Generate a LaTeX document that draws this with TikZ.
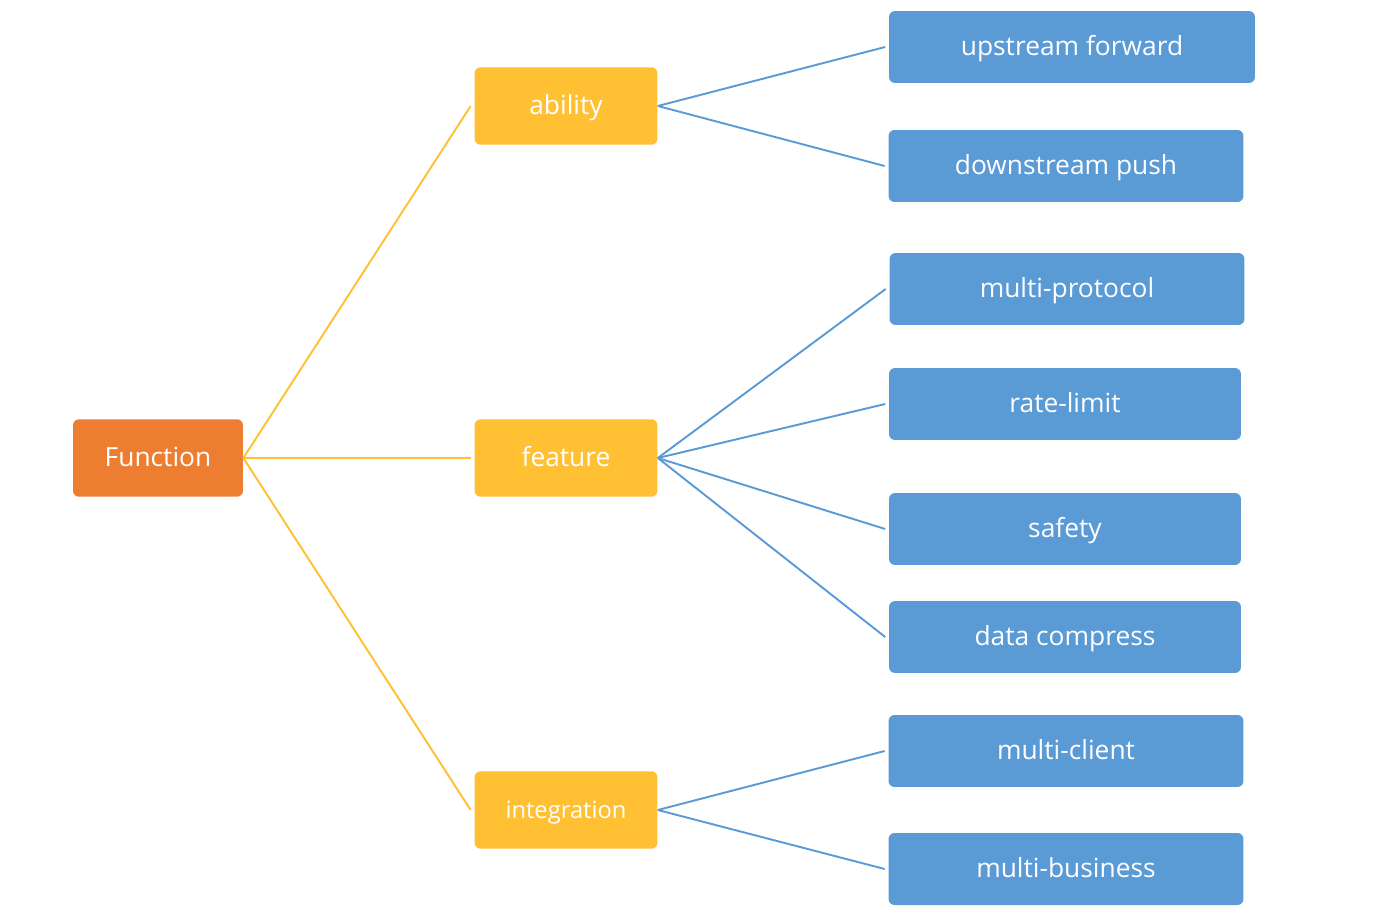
\documentclass[tikz,border=0pt]{standalone}
\usepackage{fontspec}
\setmainfont{Open Sans}
\definecolor{rootorange}{HTML}{ED7D31}
\definecolor{branchyellow}{HTML}{FFC034}
\definecolor{leafblue}{HTML}{5B9BD5}
\tikzset{
box/.style={
	  text=white, rounded corners=3.4pt, text height=2ex, text depth=0.25ex,
	    font=\fontsize{15}{18}\selectfont},
rootbox/.style={
	  box, fill=rootorange, minimum width=3.4cm, minimum height=1.55cm},
branchbox/.style={
	  box, fill=branchyellow, minimum width=3.66cm, minimum height=1.55cm},
leafbox/.style={
	  box, fill=leafblue, minimum height=1.44cm},
trunk/.style={draw=branchyellow, line width=1.1pt},
twig/.style={draw=leafblue, line width=1.1pt}
}

\begin{document}
\begin{tikzpicture}[x=0.02cm, y=-0.02cm]
	\useasboundingbox (0,0) rectangle (1386,912);
	% root and branches
	\node[rootbox] (function) at (158,458) {Function};
	\node[branchbox] (ability) at (566,106) {ability};
	\node[branchbox] (feature) at (566,458) {feature};
	\node[branchbox, font=\fontsize{13.5}{16}\selectfont] (integration) at (566,810) {integration};
	% leaves
	\node[leafbox, minimum width=7.32cm] (upstream) at (1072,47) {upstream forward};
	\node[leafbox, minimum width=7.1cm] (downstream) at (1066,166) {downstream push};
	\node[leafbox, minimum width=7.1cm] (protocol) at (1067,289) {multi-protocol};
	\node[leafbox, minimum width=7.04cm] (ratelimit) at (1065,404) {rate-limit};
	\node[leafbox, minimum width=7.04cm] (safety) at (1065,529) {safety};
	\node[leafbox, minimum width=7.04cm] (compress) at (1065,637) {data compress};
	\node[leafbox, minimum width=7.1cm] (client) at (1066,751) {multi-client};
	\node[leafbox, minimum width=7.1cm] (business) at (1066,869) {multi-business};
	% connectors
	\foreach \b in {ability, feature, integration}
		\draw[trunk] (function.east) -- ([xshift=-2pt]\b.west);
	\foreach \l in {upstream, downstream}
		\draw[twig] (ability.east) -- ([xshift=-2pt]\l.west);
	\foreach \l in {protocol, ratelimit, safety, compress}
		\draw[twig] (feature.east) -- ([xshift=-2pt]\l.west);
	\foreach \l in {client, business}
		\draw[twig] (integration.east) -- ([xshift=-2pt]\l.west);
\end{tikzpicture}
\end{document}
